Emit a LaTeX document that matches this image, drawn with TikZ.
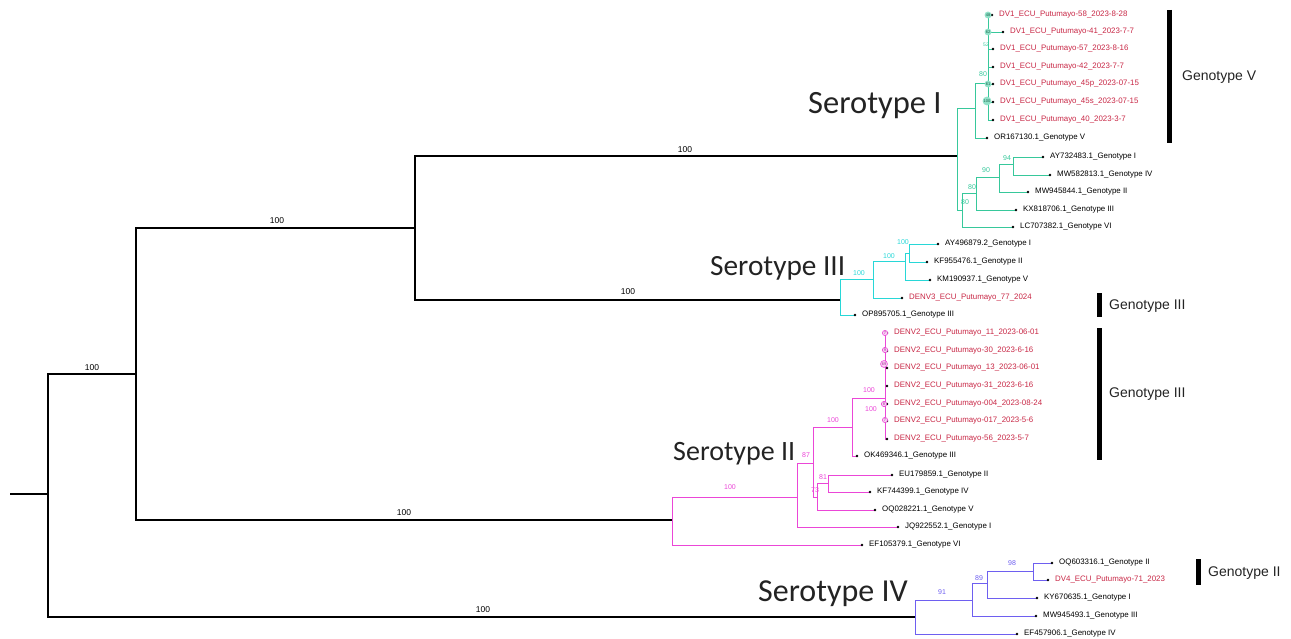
\documentclass[tikz,border=0pt]{standalone}
\usepackage{fontspec}
\setmainfont{Liberation Sans}
\newfontfamily\serofont{Carlito}
\definecolor{cI}{RGB}{55,200,155}
\definecolor{cIII}{RGB}{40,215,215}
\definecolor{cII}{RGB}{235,70,215}
\definecolor{cIV}{RGB}{110,95,240}
\definecolor{rd}{RGB}{200,40,70}
\definecolor{tx}{RGB}{35,35,35}
\newcommand{\lf}[7]{%
  \coordinate (#1) at (#3,#4);
  \draw[#5] (#2) |- (#1);
  \fill (#1) circle (1.3pt);
  \node[leaftext,text=#6] (#1-l) at ([xshift=7pt]#1) {#7};
}
\begin{document}
\begin{tikzpicture}[x=1pt,y=-1pt,
  blk/.style={line width=1.3pt,black},
  bI/.style={line width=0.9pt,cI},
  bIII/.style={line width=0.9pt,cIII},
  bII/.style={line width=0.9pt,cII},
  bIV/.style={line width=0.9pt,cIV},
  leaftext/.style={anchor=west,inner sep=0pt,font=\fontsize{7.9}{8}\selectfont},
  bsc/.style={inner sep=0pt,font=\fontsize{7}{8}\selectfont},
  bsk/.style={inner sep=0pt,font=\fontsize{8.5}{9}\selectfont},
  sero/.style={anchor=base west,inner sep=0pt,text=tx},
  geno/.style={anchor=west,inner sep=0pt,text=tx,font=\fontsize{14}{16}\selectfont},
  gbar/.style={line width=5pt,black},
  blobI/.style={circle,inner sep=0.6pt,fill=cI!55,text=cI!50!black,font=\fontsize{4}{4}\selectfont},
  blobII/.style={circle,inner sep=0.6pt,draw=cII,line width=0.6pt,fill=cII!25,text=cII!70!black,font=\fontsize{4}{4}\selectfont}
]
\useasboundingbox (0,0) rectangle (1291,639);

% ---------- backbone ----------
\coordinate (R) at (10,494);
\coordinate (R0) at (48,494);
\coordinate (A) at (136,374);
\coordinate (B) at (415,228);
\coordinate (S1) at (957,156);
\coordinate (S3) at (840,300);
\coordinate (S2) at (672,520);
\coordinate (S4) at (915,617);
\draw[blk] (R) -- (R0);
\draw[blk] (R0) |- (A);
\draw[blk] (R0) |- (S4);
\draw[blk] (A) |- (B);
\draw[blk] (A) |- (S2);
\draw[blk] (B) |- (S1);
\draw[blk] (B) |- (S3);
\node[bsk] (b1) at (92,368) {100};
\node[bsk] (b2) at (277,221) {100};
\node[bsk] (b3) at (685,150) {100};
\node[bsk] (b4) at (628,292) {100};
\node[bsk] (b5) at (404,513) {100};
\node[bsk] (b6) at (483,610) {100};

% ---------- Serotype I ----------
\coordinate (GV) at (975,108);
\coordinate (D1) at (988,83);
\coordinate (O1) at (962,210);
\coordinate (O2) at (976,193);
\coordinate (O3) at (999,177);
\coordinate (O4) at (1013,164);
\draw[bI] (S1) |- (GV);
\draw[bI] (S1) |- (O1);
\draw[bI] (GV) |- (D1);
\draw[bI] (O1) |- (O2);
\draw[bI] (O2) |- (O3);
\draw[bI] (O3) |- (O4);
\lf{L1}{D1}{992}{15}{bI}{rd}{DV1\_ECU\_Putumayo-58\_2023-8-28}
\lf{L2}{D1}{1003}{32}{bI}{rd}{DV1\_ECU\_Putumayo-41\_2023-7-7}
\lf{L3}{D1}{993}{49}{bI}{rd}{DV1\_ECU\_Putumayo-57\_2023-8-16}
\lf{L4}{D1}{993}{67}{bI}{rd}{DV1\_ECU\_Putumayo-42\_2023-7-7}
\lf{L5}{D1}{993}{84}{bI}{rd}{DV1\_ECU\_Putumayo\_45p\_2023-07-15}
\lf{L6}{D1}{993}{102}{bI}{rd}{DV1\_ECU\_Putumayo\_45s\_2023-07-15}
\lf{L7}{D1}{993}{120}{bI}{rd}{DV1\_ECU\_Putumayo\_40\_2023-3-7}
\lf{L8}{GV}{987}{138}{bI}{black}{OR167130.1\_Genotype V}
\lf{L9}{O4}{1043}{157}{bI}{black}{AY732483.1\_Genotype I}
\lf{L10}{O4}{1050}{175}{bI}{black}{MW582813.1\_Genotype IV}
\lf{L11}{O3}{1028}{192}{bI}{black}{MW945844.1\_Genotype II}
\lf{L12}{O2}{1016}{210}{bI}{black}{KX818706.1\_Genotype III}
\lf{L13}{O1}{1013}{227}{bI}{black}{LC707382.1\_Genotype VI}
\node[bsc,text=cI] (c1) at (983,74) {80};
\node[bsc,text=cI] (c2) at (965,202) {80};
\node[bsc,text=cI] (c3) at (972,187) {80};
\node[bsc,text=cI] (c4) at (986,170) {90};
\node[bsc,text=cI] (c5) at (1007,158) {94};
\node[blobI] (k1) at (988,15) {48};
\node[blobI] (k2) at (988,32) {62};
\node[bsc,text=cI,font=\fontsize{5}{5}\selectfont] (k3) at (986,45) {52};
\node[blobI] (k4) at (988,84) {61};
\node[blobI] (k5) at (987,101) {100};

% ---------- Serotype III ----------
\coordinate (T2) at (873,279);
\coordinate (T3) at (905,261);
\coordinate (T4) at (909,253);
\draw[bIII] (S3) |- (T2);
\draw[bIII] (T2) |- (T3);
\draw[bIII] (T3) |- (T4);
\lf{L14}{T4}{938}{244}{bIII}{black}{AY496879.2\_Genotype I}
\lf{L15}{T4}{927}{262}{bIII}{black}{KF955476.1\_Genotype II}
\lf{L16}{T3}{930}{280}{bIII}{black}{KM190937.1\_Genotype V}
\lf{L17}{T2}{902}{298}{bIII}{rd}{DENV3\_ECU\_Putumayo\_77\_2024}
\lf{L18}{S3}{855}{315}{bIII}{black}{OP895705.1\_Genotype III}
\node[bsc,text=cIII] (e1) at (859,273) {100};
\node[bsc,text=cIII] (e2) at (889,256) {100};
\node[bsc,text=cIII] (e3) at (903,242) {100};

% ---------- Serotype II ----------
\coordinate (P2) at (797,497);
\coordinate (P3) at (813,463);
\coordinate (P4) at (817,497);
\coordinate (P5) at (828,483);
\coordinate (P6) at (852,427);
\coordinate (P7) at (885,398);
\draw[bII] (S2) |- (P2);
\draw[bII] (P2) |- (P3);
\draw[bII] (P3) |- (P4);
\draw[bII] (P4) |- (P5);
\draw[bII] (P3) |- (P6);
\draw[bII] (P6) |- (P7);
\lf{L19}{P7}{887}{333}{bII}{rd}{DENV2\_ECU\_Putumayo\_11\_2023-06-01}
\lf{L20}{P7}{887}{351}{bII}{rd}{DENV2\_ECU\_Putumayo-30\_2023-6-16}
\lf{L21}{P7}{887}{368}{bII}{rd}{DENV2\_ECU\_Putumayo\_13\_2023-06-01}
\lf{L22}{P7}{887}{386}{bII}{rd}{DENV2\_ECU\_Putumayo-31\_2023-6-16}
\lf{L23}{P7}{887}{404}{bII}{rd}{DENV2\_ECU\_Putumayo-004\_2023-08-24}
\lf{L24}{P7}{887}{421}{bII}{rd}{DENV2\_ECU\_Putumayo-017\_2023-5-6}
\lf{L25}{P7}{887}{439}{bII}{rd}{DENV2\_ECU\_Putumayo-56\_2023-5-7}
\lf{L26}{P6}{857}{456}{bII}{black}{OK469346.1\_Genotype III}
\lf{L27}{P5}{892}{475}{bII}{black}{EU179859.1\_Genotype II}
\lf{L28}{P5}{870}{492}{bII}{black}{KF744399.1\_Genotype IV}
\lf{L29}{P4}{875}{510}{bII}{black}{OQ028221.1\_Genotype V}
\lf{L30}{P2}{898}{527}{bII}{black}{JQ922552.1\_Genotype I}
\lf{L31}{S2}{862}{545}{bII}{black}{EF105379.1\_Genotype VI}
\node[bsc,text=cII] (m1) at (730,487) {100};
\node[bsc,text=cII] (m2) at (806,455) {87};
\node[bsc,text=cII] (m3) at (833,420) {100};
\node[bsc,text=cII] (m4) at (869,390) {100};
\node[bsc,text=cII] (m5) at (871,409) {100};
\node[bsc,text=cII] (m6) at (823,477) {81};
\node[bsc,text=cII] (m7) at (815,490) {73};
\node[blobII] (j1) at (885,333) {7};
\node[blobII] (j2) at (885,350) {9};
\node[blobII] (j3) at (884,364) {69};
\node[blobII] (j4) at (884,404) {8};
\node[blobII] (j5) at (885,420) {7};

% ---------- Serotype IV ----------
\coordinate (Q2) at (972,600);
\coordinate (Q3) at (987,583);
\coordinate (Q4) at (1033,571);
\draw[bIV] (S4) |- (Q2);
\draw[bIV] (Q2) |- (Q3);
\draw[bIV] (Q3) |- (Q4);
\lf{L32}{Q4}{1052}{563}{bIV}{black}{OQ603316.1\_Genotype II}
\lf{L33}{Q4}{1048}{580}{bIV}{rd}{DV4\_ECU\_Putumayo-71\_2023}
\lf{L34}{Q3}{1037}{598}{bIV}{black}{KY670635.1\_Genotype I}
\lf{L35}{Q2}{1036}{616}{bIV}{black}{MW945493.1\_Genotype III}
\lf{L36}{S4}{1017}{634}{bIV}{black}{EF457906.1\_Genotype IV}
\node[bsc,text=cIV] (v1) at (942,592) {91};
\node[bsc,text=cIV] (v2) at (979,578) {89};
\node[bsc,text=cIV] (v3) at (1012,563) {98};

% ---------- serotype labels ----------
\node[sero,font=\serofont\fontsize{32.5}{34}\selectfont] (sI) at (808,114) {Serotype I};
\node[sero,font=\serofont\fontsize{29.3}{31}\selectfont] (sIII) at (710,276) {Serotype III};
\node[sero,font=\serofont\fontsize{28}{30}\selectfont] (sII) at (673,460) {Serotype II};
\node[sero,font=\serofont\fontsize{32}{34}\selectfont] (sIV) at (758,601) {Serotype IV};

% ---------- genotype bars ----------
\coordinate (g1a) at (1169,10);  \coordinate (g1b) at (1169,143);
\coordinate (g2a) at (1099,293); \coordinate (g2b) at (1099,317);
\coordinate (g3a) at (1099,328); \coordinate (g3b) at (1099,460);
\coordinate (g4a) at (1198,559); \coordinate (g4b) at (1198,585);
\draw[gbar] (g1a) -- (g1b);
\draw[gbar] (g2a) -- (g2b);
\draw[gbar] (g3a) -- (g3b);
\draw[gbar] (g4a) -- (g4b);
\node[geno] (G1) at (1182,77) {Genotype V};
\node[geno] (G2) at (1109,306) {Genotype III};
\node[geno] (G3) at (1109,394) {Genotype III};
\node[geno] (G4) at (1208,573) {Genotype II};
\end{tikzpicture}
\end{document}
